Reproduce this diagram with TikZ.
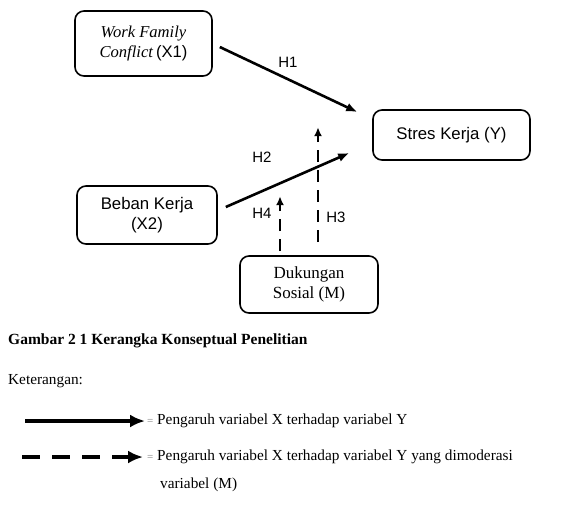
\documentclass[tikz,border=0pt]{standalone}
\usepackage{fontspec}
\setmainfont{Liberation Serif}
\newfontfamily\arialfont{Liberation Sans}
\usetikzlibrary{arrows.meta}
\tikzset{
  kotak/.style={draw, line width=1.6pt, rounded corners=9pt, align=center, inner sep=0pt},
  panah/.style={line width=2.6pt, -{Latex[length=11pt,width=9pt]}},
  panahputus/.style={line width=2.6pt, dash pattern=on 12pt off 8pt, -{Latex[length=9pt,width=8pt]}},
  hlabel/.style={font=\arialfont\fontsize{15}{18}\selectfont, inner sep=0pt},
  teks/.style={font=\fontsize{15.3}{18}\selectfont, inner sep=0pt, anchor=west},
}
\begin{document}
\begin{tikzpicture}[x=1pt,y=-1pt]
\useasboundingbox (0,0) rectangle (569,504);
% kotak variabel
\node[kotak, minimum width=137pt, minimum height=65pt, font=\fontsize{16.6}{20}\selectfont] (x1) at (143.5,43.5) {\textit{Work Family}\\\textit{Conflict}\,{\arialfont(X1)}};
\node[kotak, minimum width=157pt, minimum height=50pt, font=\arialfont\fontsize{16.8}{20}\selectfont] (y) at (451.5,135) {Stres Kerja (Y)};
\node[kotak, minimum width=140pt, minimum height=58pt, font=\arialfont\fontsize{16.8}{20}\selectfont] (x2) at (147,215) {Beban Kerja\\(X2)};
\node[kotak, minimum width=138pt, minimum height=57pt, font=\fontsize{17}{20}\selectfont] (m) at (309,284.5) {Dukungan\\Sosial (M)};
% hipotesis
\draw[panah] ([xshift=7pt,yshift=-3.5pt]x1.east) -- ([xshift=-15pt,yshift=23pt]y.west);
\draw[panah] ([xshift=8pt,yshift=8pt]x2.east) -- ([xshift=-23pt,yshift=-18pt]y.west);
\draw[panahputus] ([xshift=9pt,yshift=13pt]m.north) -- ++(0,-115);
\draw[panahputus] ([xshift=-29pt,yshift=4pt]m.north) -- ++(0,-55);
\node[hlabel] (h1) at (288,62) {H1};
\node[hlabel] (h2) at (262,157) {H2};
\node[hlabel] (h3) at (336,217) {H3};
\node[hlabel] (h4) at (262,213) {H4};
% keterangan
\node[anchor=west, inner sep=0pt, font=\bfseries\fontsize{15.5}{18}\selectfont] (judul) at (8,341) {Gambar 2 1 Kerangka Konseptual Penelitian};
\node[teks] (ket) at (8,381) {Keterangan:};
\node[teks] (ket1) at (147,421) {{\color{gray}\fontsize{11}{12}\selectfont=} Pengaruh variabel X terhadap variabel Y};
\node[teks] (ket2) at (147,457) {{\color{gray}\fontsize{11}{12}\selectfont=} Pengaruh variabel X terhadap variabel Y yang dimoderasi};
\node[teks] (ket3) at (160,485) {variabel (M)};
\draw[line width=4pt, -{Latex[length=15pt,width=13pt]}] ([xshift=-122pt]ket1.west) -- ([xshift=-2pt]ket1.west);
\draw[line width=4pt, dash pattern=on 18pt off 12pt, -{Latex[length=15pt,width=13pt]}] ([xshift=-125pt]ket2.west) -- ([xshift=-4pt]ket2.west);
\end{tikzpicture}
\end{document}
